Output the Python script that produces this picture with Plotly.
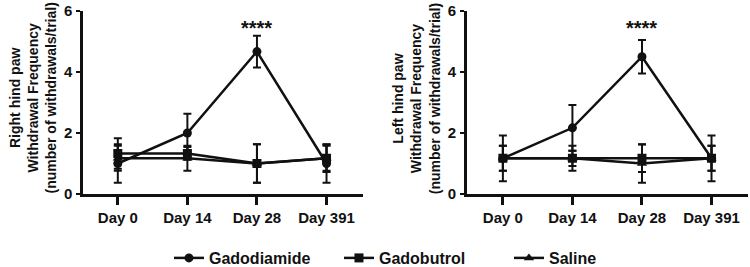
import plotly.graph_objects as go

days = ["Day 0", "Day 14", "Day 28", "Day 391"]
y_ticks = [0, 2, 4, 6]

# Right hind paw (left panel)
right_gadodiamide = [1.0, 2.0, 4.67, 1.0]
right_gadodiamide_err = [0.63, 0.63, 0.52, 0.63]
right_gadobutrol = [1.33, 1.33, 1.0, 1.17]
right_gadobutrol_err = [0.5, 0.21, 0.63, 0.45]
right_saline = [1.17, 1.17, 1.0, 1.17]
right_saline_err = [0.41, 0.41, 0.63, 0.41]

# Left hind paw (right panel)
left_gadodiamide = [1.17, 2.17, 4.5, 1.17]
left_gadodiamide_err = [0.75, 0.75, 0.55, 0.75]
left_gadobutrol = [1.17, 1.17, 1.17, 1.17]
left_gadobutrol_err = [0.41, 0.41, 0.45, 0.41]
left_saline = [1.17, 1.17, 1.0, 1.17]
left_saline_err = [0.41, 0.25, 0.63, 0.41]

series_names = ["Gadodiamide", "Gadobutrol", "Saline"]
symbols = ["circle", "square", "triangle-up"]

FONT = "Liberation Sans, Arial, sans-serif"
BLACK = "#111111"

fig = go.Figure()

panels = [
    ("x", "y", [right_gadodiamide, right_gadobutrol, right_saline],
     [right_gadodiamide_err, right_gadobutrol_err, right_saline_err], True),
    ("x2", "y2", [left_gadodiamide, left_gadobutrol, left_saline],
     [left_gadodiamide_err, left_gadobutrol_err, left_saline_err], False),
]

for xa, ya, vals, errs, show in panels:
    for name, sym, v, e in zip(series_names, symbols, vals, errs):
        fig.add_trace(go.Scatter(
            x=days, y=v, name=name, xaxis=xa, yaxis=ya,
            mode="lines+markers",
            line=dict(color=BLACK, width=2.5),
            marker=dict(symbol=sym, size=9, color=BLACK),
            error_y=dict(type="data", array=e, visible=True, color=BLACK,
                         thickness=2, width=4),
            showlegend=show,
        ))

axis_common = dict(
    showline=True, linecolor=BLACK, linewidth=2.5, showgrid=False,
    zeroline=False, ticks="outside", tickcolor=BLACK, automargin=False,
    ticklabeloverflow="allow",
    tickfont=dict(family=FONT, size=15, color=BLACK, weight="bold"),
)

fig.update_layout(
    width=750, height=267,
    margin=dict(l=0, r=0, t=0, b=0, autoexpand=False),
    paper_bgcolor="white", plot_bgcolor="white",
    font=dict(family=FONT, color=BLACK),
    xaxis=dict(domain=[0.1107, 0.4836], range=[-0.5, 3.52], anchor="y",
               ticklen=8, tickwidth=2.5, ticklabelstandoff=0, **axis_common),
    yaxis=dict(domain=[0.2734, 0.9588], range=[0, 6], anchor="x",
               tickvals=y_ticks, ticklen=4, tickwidth=2, ticklabelstandoff=1,
               **axis_common),
    xaxis2=dict(domain=[0.6223, 0.9969], range=[-0.52, 3.52], anchor="y2",
                ticklen=8, tickwidth=2.5, ticklabelstandoff=0, **axis_common),
    yaxis2=dict(domain=[0.2734, 0.9588], range=[0, 6], anchor="x2",
                tickvals=y_ticks, ticklen=4, tickwidth=2, ticklabelstandoff=1,
                **axis_common),
    legend=dict(orientation="h", xref="container", yref="container",
                x=0.2253, xanchor="left", y=0.0337, yanchor="middle",
                entrywidth=125, itemwidth=30,
                font=dict(family=FONT, size=16, color=BLACK, weight="bold"),
                bgcolor="rgba(0,0,0,0)"),
    showlegend=True,
)

titles = [
    ("x domain", "y domain", "Right hind paw<br>Withdrawal Frequency<br>(number of withdrawals/trial)"),
    ("x2 domain", "y2 domain", "Left hind paw<br>Withdrawal Frequency<br>(number of withdrawals/trial)"),
]
for xr, yr, t in titles:
    fig.add_annotation(
        xref=xr, yref=yr, x=0, y=0.5, xanchor="right", yanchor="middle",
        xshift=-23, yshift=4, text=t, textangle=-90, showarrow=False,
        font=dict(family=FONT, size=14, color=BLACK, weight="bold"),
    )

# significance marks above Day 28
for xa, ya in [("x", "y"), ("x2", "y2")]:
    fig.add_annotation(
        xref=xa, yref=ya, x=days[2], y=5.44, text="****", showarrow=False,
        font=dict(family=FONT, size=20, color=BLACK, weight="bold"),
    )

# remove the browser's default 8px body margin so the 750x267 figure fills the window
fig.write_html("out.html", config={"displayModeBar": False},
               post_script="document.body.style.margin='0';")
